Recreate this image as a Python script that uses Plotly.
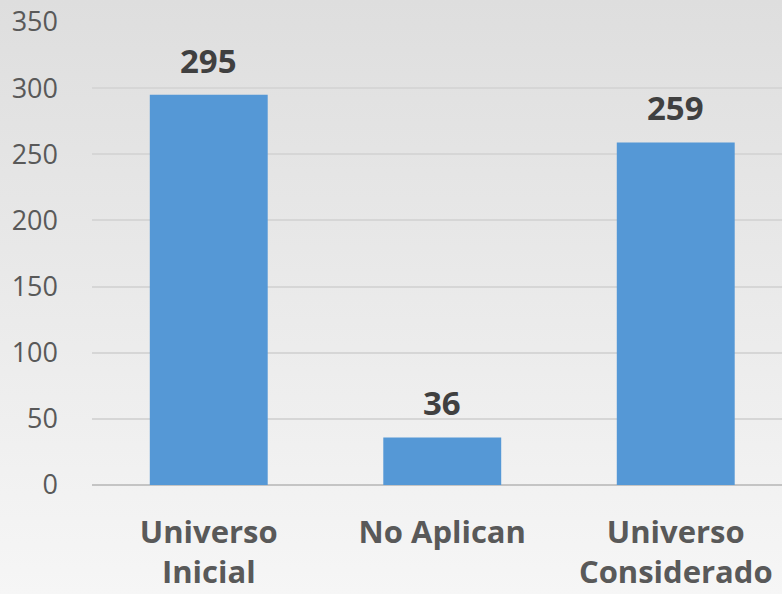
import plotly.graph_objects as go
import urllib.parse

categories = ["Universo<br>Inicial", "No Aplican", "Universo<br>Considerado"]
values = [295, 36, 259]
y_ticks = [0, 50, 100, 150, 200, 250, 300, 350]

W, H = 782, 594
ml, mr, mt, mb = 92, 0, 22, 109
pw, ph = W - ml - mr, H - mt - mb

bg_svg = ("<svg xmlns='http://www.w3.org/2000/svg' width='100' height='100' preserveAspectRatio='none'>"
          "<defs><linearGradient id='g' x1='0' y1='0' x2='0' y2='1'>"
          "<stop offset='0' stop-color='#dedede'/><stop offset='1' stop-color='#f6f6f6'/>"
          "</linearGradient></defs><rect width='100' height='100' fill='url(#g)'/></svg>")
bg_uri = "data:image/svg+xml;charset=utf-8," + urllib.parse.quote(bg_svg)

fig = go.Figure()
fig.add_trace(go.Bar(
    x=categories, y=values, width=0.505,
    marker=dict(color="#5598d6", line=dict(width=0)),
    hoverinfo="x+y",
))

for c, v in zip(categories, values):
    fig.add_annotation(x=c, y=v, text=f"<b>{v}</b>", showarrow=False,
                       yanchor="bottom", yshift=10,
                       font=dict(family="Open Sans", size=33, color="#404040"))

fig.add_layout_image(dict(
    source=bg_uri, xref="paper", yref="paper",
    x=-ml / pw, y=1 + mt / ph, sizex=W / pw, sizey=H / ph,
    xanchor="left", yanchor="top", sizing="stretch", layer="below",
))

fig.update_layout(
    width=W, height=H,
    margin=dict(l=ml, r=mr, t=mt, b=mb, pad=0),
    paper_bgcolor="rgba(0,0,0,0)", plot_bgcolor="rgba(0,0,0,0)",
    showlegend=False,
    xaxis=dict(
        range=[-0.5, -0.5 + pw / 233.5], showgrid=False, zeroline=False,
        ticks="", tickfont=dict(family="Open Sans", size=31, color="#595959", weight="bold"),
        ticklabelstandoff=26, fixedrange=True,
    ),
    yaxis=dict(
        range=[0, 350], tickvals=y_ticks, showgrid=True, gridcolor="#d6d6d6", gridwidth=2,
        zeroline=True, zerolinecolor="#c4c4c4", zerolinewidth=2,
        ticks="", tickfont=dict(family="Open Sans", size=27, color="#595959"),
        ticklabelstandoff=33, fixedrange=True,
    ),
)

fig.write_html("out.html", config={"displayModeBar": False},
               post_script="document.body.style.margin='0';document.body.style.background='#f6f6f6';")
